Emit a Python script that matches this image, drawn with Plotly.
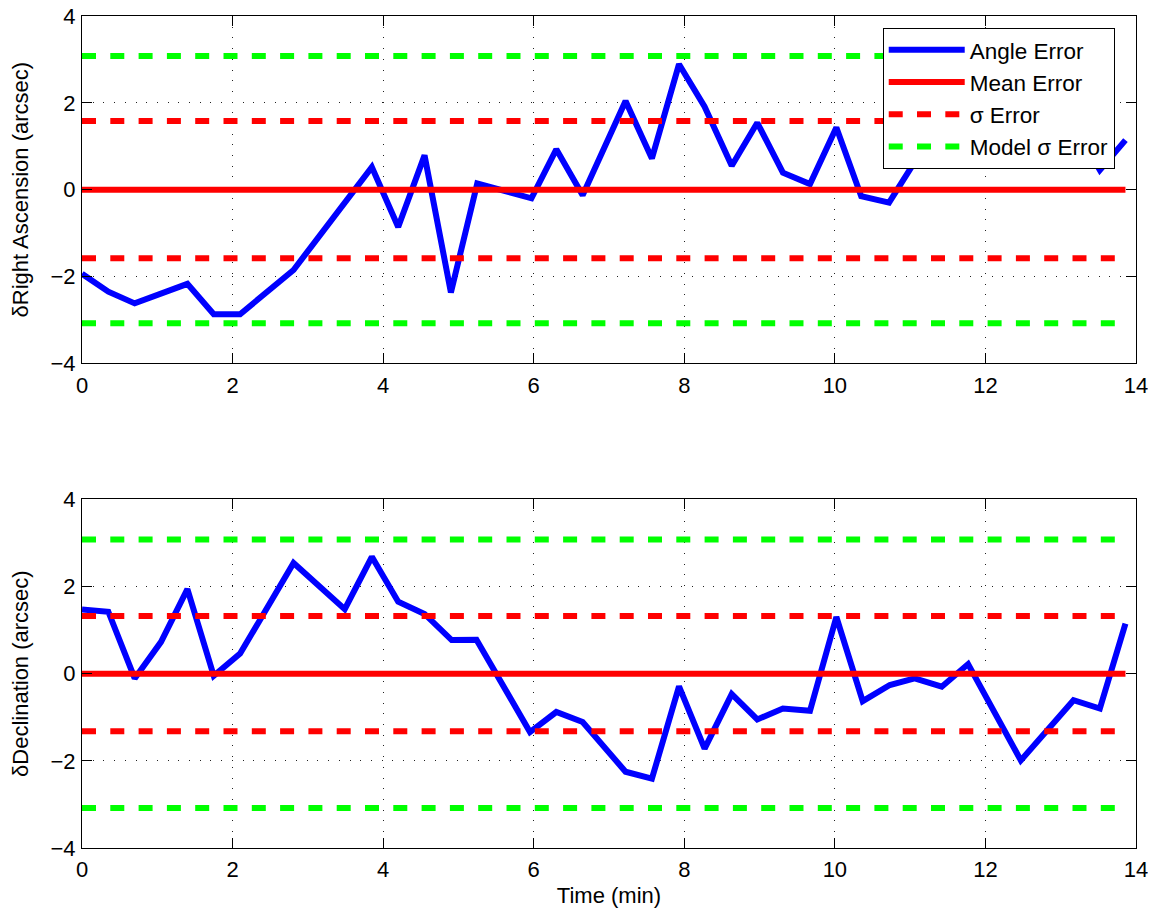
import plotly.graph_objects as go
from plotly.subplots import make_subplots

# ---------------- data ----------------
t_ra = [0.00, 0.35, 0.70, 1.40, 1.75, 2.10, 2.81, 3.85, 4.20, 4.55, 4.90, 5.25,
        5.97, 6.30, 6.65, 7.22, 7.57, 7.93, 8.27, 8.63, 8.97, 9.31, 9.67, 10.02,
        10.35, 10.72, 11.10, 11.42, 11.77, 12.12, 12.47, 12.81, 13.17, 13.52, 13.86]
ra_err = [-1.94, -2.35, -2.62, -2.17, -2.87, -2.87, -1.85, 0.52, -0.86, 0.79, -2.37, 0.14,
          -0.20, 0.93, -0.13, 2.04, 0.72, 2.89, 1.91, 0.55, 1.54, 0.39, 0.13, 1.43,
          -0.15, -0.30, 0.75, 1.30, 1.00, 1.60, 1.20, 0.68, 1.50, 0.45, 1.14]

t_dec = [0.00, 0.35, 0.70, 1.05, 1.40, 1.75, 2.10, 2.81, 3.49, 3.85, 4.20, 4.55,
         4.91, 5.24, 5.95, 6.30, 6.65, 7.22, 7.57, 7.93, 8.27, 8.63, 8.97, 9.31,
         9.67, 10.02, 10.37, 10.73, 11.06, 11.42, 11.77, 12.47, 13.17, 13.52, 13.86]
dec_err = [1.47, 1.42, -0.11, 0.73, 1.94, -0.05, 0.46, 2.54, 1.48, 2.68, 1.65, 1.37,
           0.77, 0.78, -1.34, -0.88, -1.11, -2.25, -2.41, -0.29, -1.72, -0.47, -1.05, -0.80,
           -0.85, 1.30, -0.63, -0.26, -0.11, -0.30, 0.22, -1.99, -0.61, -0.80, 1.15]

ra_mean, ra_sigma = 0.0, 1.58
dec_mean, dec_sigma = 0.0, 1.32
model_sigma = 3.08

legend_names = ["Angle Error", "Mean Error", "\u03c3 Error", "Model \u03c3 Error"]
y_titles = ["\u03b4Right Ascension (arcsec)", "\u03b4Declination (arcsec)"]
x_title = "Time (min)"
x_ticks = [0, 2, 4, 6, 8, 10, 12, 14]
y_ticks = [-4, -2, 0, 2, 4]

# ---------------- figure ----------------
FONT = "Liberation Sans, Arial, Helvetica, sans-serif"
BLUE, RED, GREEN = "#0000FF", "#FF0000", "#00FF00"
LW = 6
DASH = "14px,14.3px"

fig = make_subplots(rows=2, cols=1)

panels = [(t_ra, ra_err, ra_mean, ra_sigma, 1, True),
          (t_dec, dec_err, dec_mean, dec_sigma, 2, False)]

for t, err, mean, sigma, row, show in panels:
    t0, t1 = t[0], t[-1]
    fig.add_trace(go.Scatter(x=t, y=err, mode="lines", name=legend_names[0],
                             line=dict(color=BLUE, width=LW), showlegend=show),
                  row=row, col=1)
    fig.add_trace(go.Scatter(x=[t0, t1], y=[mean, mean], mode="lines", name=legend_names[1],
                             line=dict(color=RED, width=LW), showlegend=show),
                  row=row, col=1)
    fig.add_trace(go.Scatter(x=[t0, t1, None, t0, t1],
                             y=[mean + sigma, mean + sigma, None, mean - sigma, mean - sigma],
                             mode="lines", name=legend_names[2], connectgaps=False,
                             line=dict(color=RED, width=LW, dash=DASH), showlegend=show),
                  row=row, col=1)
    fig.add_trace(go.Scatter(x=[t0, t1, None, t0, t1],
                             y=[model_sigma, model_sigma, None, -model_sigma, -model_sigma],
                             mode="lines", name=legend_names[3], connectgaps=False,
                             line=dict(color=GREEN, width=LW, dash=DASH), showlegend=show),
                  row=row, col=1)

axis_common = dict(
    showline=True, linecolor="black", linewidth=1, mirror="ticks",
    ticks="inside", ticklen=10, tickwidth=1, tickcolor="black",
    showgrid=True, gridcolor="#222222", gridwidth=1, griddash="1px,9.7px",
    zeroline=False, tickfont=dict(family=FONT, size=22, color="black"),
    automargin=False, ticklabeloverflow="allow",
)

for row in (1, 2):
    fig.update_xaxes(range=[0, 14], tickvals=x_ticks, ticklabelstandoff=2,
                     row=row, col=1, **axis_common)
    fig.update_yaxes(range=[-4, 4], tickvals=y_ticks, ticklabelstandoff=1,
                     title=dict(text=y_titles[row - 1], standoff=17,
                                font=dict(family=FONT, size=22, color="black")),
                     row=row, col=1, **axis_common)

fig.update_xaxes(title=dict(text=x_title, standoff=6,
                            font=dict(family=FONT, size=22, color="black")),
                 row=2, col=1)

# page body has an 8px margin, so the figure is 8px smaller and its margins shifted
fig.update_layout(
    width=1148, height=905,
    margin=dict(l=74, r=20, t=8, b=65),
    paper_bgcolor="white", plot_bgcolor="white",
    font=dict(family=FONT, size=22, color="black"),
    yaxis=dict(domain=[0.5826, 1.0]),
    yaxis2=dict(domain=[0.0, 0.4191]),
    legend=dict(x=0.7597, y=0.986, xanchor="left", yanchor="top",
                bgcolor="white", bordercolor="black", borderwidth=1,
                font=dict(family=FONT, size=22.5, color="black"),
                itemwidth=76, tracegroupgap=0),
    showlegend=True,
)

fig.write_html("out.html")
